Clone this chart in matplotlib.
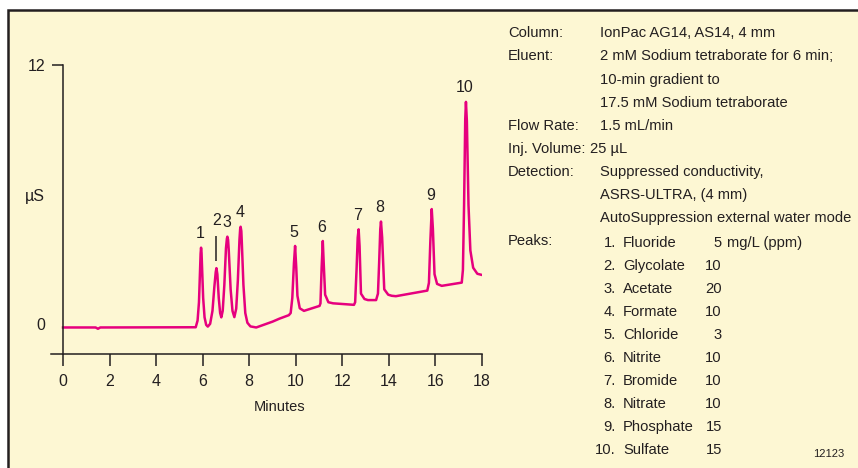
import numpy as np
import matplotlib
matplotlib.use('Agg')
import matplotlib.pyplot as plt
from matplotlib.patches import Rectangle

plt.rcParams['font.family'] = ['Liberation Sans', 'DejaVu Sans']

# chromatogram trace (minutes, uS)
trace_t = [0.0, 1.4, 1.5, 1.6, 5.70, 5.78, 5.84, 5.89, 5.91, 5.93, 5.95, 5.97, 6.02, 6.08, 6.15, 6.22,
           6.32, 6.42, 6.50, 6.56, 6.59, 6.63, 6.69, 6.75, 6.80,
           6.86, 6.93, 7.00, 7.04, 7.06, 7.09, 7.12, 7.20, 7.28, 7.36,
           7.44, 7.51, 7.58, 7.61, 7.63, 7.66, 7.68, 7.75, 7.83, 7.92, 8.05, 8.30,
           9.00, 9.30, 9.70, 9.78, 9.85, 9.92, 9.97, 10.02, 10.07, 10.17, 10.35,
           11.02, 11.06, 11.11, 11.16, 11.20, 11.26, 11.40, 11.60, 12.50,
           12.55, 12.61, 12.66, 12.70, 12.74, 12.80, 12.95, 13.10, 13.45,
           13.53, 13.58, 13.63, 13.66, 13.71, 13.80, 13.97, 14.12, 14.30, 15.65,
           15.72, 15.78, 15.84, 15.89, 15.96, 16.07, 16.27, 17.13,
           17.18, 17.23, 17.28, 17.31, 17.35, 17.42, 17.50, 17.62, 17.80, 17.98]
trace_v = [-0.17, -0.17, -0.23, -0.17, -0.16, 0.15, 1.0, 2.6, 3.25, 3.53, 3.3, 2.7, 1.2, 0.3, -0.05, -0.13,
           0.0, 0.6, 1.7, 2.4, 2.58, 2.3, 1.2, 0.5, 0.3,
           0.6, 1.8, 3.5, 3.95, 4.04, 3.9, 3.4, 1.6, 0.6, 0.31,
           0.7, 2.0, 3.9, 4.4, 4.50, 4.3, 3.8, 1.8, 0.5, 0.05, -0.12, -0.17,
           0.1, 0.24, 0.40, 0.5, 1.2, 2.8, 3.61, 2.6, 1.3, 0.72, 0.6,
           0.83, 0.95, 2.6, 3.84, 2.8, 1.35, 1.0, 0.95, 0.88,
           1.0, 2.5, 4.0, 4.38, 3.6, 1.4, 1.15, 1.1, 1.1,
           1.4, 2.8, 4.4, 4.74, 4.0, 1.6, 1.35, 1.3, 1.28, 1.54,
           1.9, 3.8, 5.32, 4.4, 2.3, 1.85, 1.76, 1.91,
           2.5, 5.5, 9.5, 10.29, 9.4, 5.5, 3.4, 2.6, 2.32, 2.27]

peak_num = [1, 2, 3, 4, 5, 6, 7, 8, 9, 10]
peak_rt = [5.93, 6.59, 7.06, 7.63, 9.97, 11.16, 12.70, 13.66, 15.84, 17.31]
peak_height = [3.53, 2.58, 4.04, 4.50, 3.61, 3.84, 4.38, 4.74, 5.32, 10.29]

x_ticks = [0, 2, 4, 6, 8, 10, 12, 14, 16, 18]
y_ticks = [0, 12]

cond_labels = ['Column:', 'Eluent:', '', '', 'Flow Rate:', 'Inj. Volume:', 'Detection:', '', '']
cond_values = ['IonPac AG14, AS14, 4 mm',
               '2 mM Sodium tetraborate for 6 min;',
               '10-min gradient to',
               '17.5 mM Sodium tetraborate',
               '1.5 mL/min',
               '25 \u00b5L',
               'Suppressed conductivity,',
               'ASRS-ULTRA, (4 mm)',
               'AutoSuppression external water mode']
peak_names = ['Fluoride', 'Glycolate', 'Acetate', 'Formate', 'Chloride',
              'Nitrite', 'Bromide', 'Nitrate', 'Phosphate', 'Sulfate']
peak_conc = ['5', '10', '20', '10', '3', '10', '10', '10', '15', '15']

W, H = 858, 468
bg = '#FDF7D3'
ink = '#231F20'
pink = '#E6007E'

def fx(px):
    return px / W

def fy(py):
    return 1 - py / H

fig = plt.figure(figsize=(W / 100, H / 100), dpi=100)
fig.patch.set_facecolor('white')
fig.patches.append(Rectangle((fx(8), -0.1), 1.2, fy(10) + 0.1, transform=fig.transFigure,
                             facecolor=bg, edgecolor=ink, lw=1.8, zorder=-5))

ax = fig.add_axes([fx(51.4), fy(354), fx(482) - fx(51.4), fy(65) - fy(354)])
ax.set_zorder(2)
ax.patch.set_visible(False)
ax.plot(trace_t, trace_v, color=pink, lw=1.8, solid_joinstyle='round')
ax.set_xlim(-0.5, 18)
ax.set_ylim(-1.4, 12)
for s in ['top', 'right']:
    ax.spines[s].set_visible(False)
ax.spines['left'].set_position(('data', 0))
for s in ['left', 'bottom']:
    ax.spines[s].set_color(ink)
    ax.spines[s].set_linewidth(1.1)
ax.set_xticks(x_ticks)
ax.set_yticks(y_ticks)
ax.tick_params(axis='x', direction='out', length=8.6, width=1.1, color=ink,
               labelcolor=ink, labelsize=11.5, pad=6)
ax.tick_params(axis='y', direction='out', length=8, width=1.1, color=ink,
               labelcolor=ink, labelsize=11.5, pad=5)
ax.yaxis.get_major_ticks()[0].tick1line.set_visible(False)

# peak numbers
for n, rt, h in zip(peak_num, peak_rt, peak_height):
    if n == 2:
        ax.vlines(rt, h + 0.35, h + 1.5, color=ink, lw=1.1)
        ax.annotate(str(n), (rt, h), xytext=(0, 34), textcoords='offset points',
                    ha='center', va='center', fontsize=11.5, color=ink)
    else:
        ax.annotate(str(n), (rt, h), xytext=(-0.6, 10), textcoords='offset points',
                    ha='center', va='center', fontsize=11.5, color=ink)

fig.text(fx(35), fy(196), '\u00b5S', ha='center', va='center', fontsize=11.5, color=ink)
fig.text(fx(280), fy(407), 'Minutes', ha='center', va='center', fontsize=10.5, color=ink)

# conditions block
row0, step = 33.3, 23.1
fs = 10.6
for i, (lab, val) in enumerate(zip(cond_labels, cond_values)):
    y = fy(row0 + step * i)
    if lab:
        fig.text(fx(508), y, lab, ha='left', va='center', fontsize=fs, color=ink)
    fig.text(fx(590) if i == 5 else fx(600), y, val, ha='left', va='center', fontsize=fs, color=ink)

fig.text(fx(508), fy(row0 + step * 9), 'Peaks:', ha='left', va='center', fontsize=fs, color=ink)
for k, (nm, c) in enumerate(zip(peak_names, peak_conc)):
    y = fy(243.3 + 23.0 * k)
    fig.text(fx(616), y, '%d.' % (k + 1), ha='right', va='center', fontsize=fs, color=ink)
    fig.text(fx(623), y, nm, ha='left', va='center', fontsize=fs, color=ink)
    fig.text(fx(722), y, c, ha='right', va='center', fontsize=fs, color=ink)
    if k == 0:
        fig.text(fx(727), y, 'mg/L (ppm)', ha='left', va='center', fontsize=fs, color=ink)

fig.text(fx(829), fy(454), '12123', ha='center', va='center', fontsize=8, color=ink)

fig.savefig('out.png', dpi=100, facecolor='white')
